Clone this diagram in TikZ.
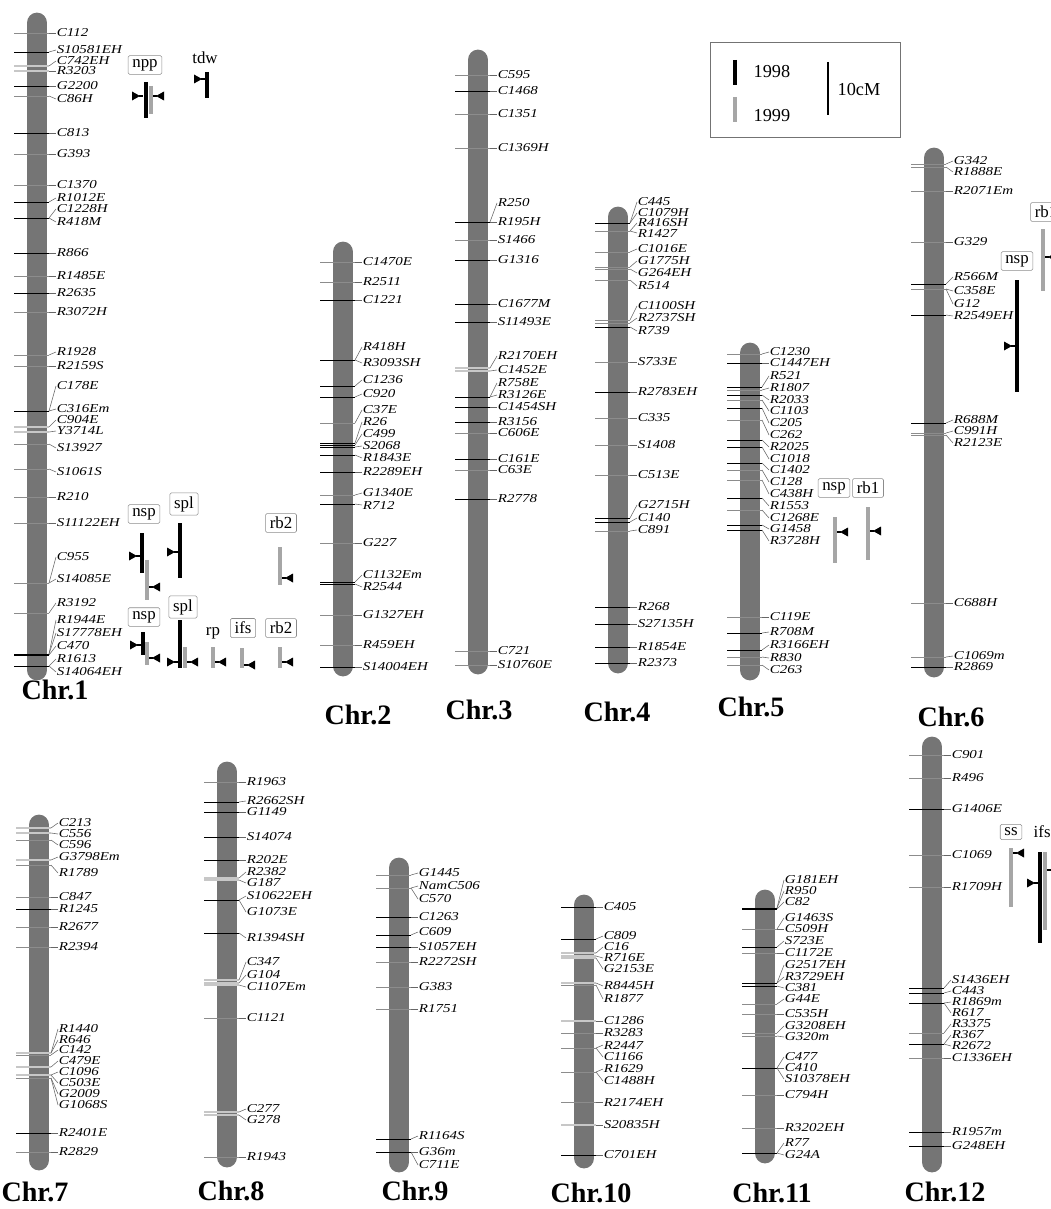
\documentclass[tikz,border=0pt]{standalone}
\usepackage{fontspec}
\setmainfont{Liberation Serif}
\newfontfamily\mkfont[FakeStretch=1.24]{Liberation Serif}
\usetikzlibrary{positioning}

\tikzset{
  chrbar/.style={line width=0.52cm, line cap=round, draw=black!54},
  mlab/.style={font=\mkfont\itshape\fontsize{8.6}{9}\selectfont, inner sep=0.5pt, anchor=west},
  tk/.style={draw=black, line width=0.5pt},
  tg/.style={draw=black!45, line width=0.5pt},
  tw/.style={draw=black!22, line width=1.4pt},
  ldr/.style={draw=black!60, line width=0.4pt},
  q98/.style={draw=black, line width=3.4pt},
  q99/.style={draw=black!35, line width=3.2pt},
  qbox/.style={draw=black!45, fill=white, rounded corners=1pt, inner xsep=3pt, inner ysep=2.5pt, font=\fontsize{12}{12}\selectfont},
  qtxt/.style={font=\fontsize{12}{12}\selectfont, inner sep=1pt},
  chrlab/.style={font=\fontsize{20}{20}\selectfont\bfseries, inner sep=1pt},
}

% chromosome: id, x, top, bottom, markers (tick y / label y / name / tick style)
\newcommand{\chrom}[5]{%
  \draw[chrbar] (#2,#3+10) -- (#2,#4-10);
  \foreach \ty/\ly/\nm/\ts in {#5} {
    \node[mlab] (#1-\nm) at (#2+19,\ly) {\nm};
    \draw[\ts] (#2-23,\ty) -- (#2+12,\ty);
    \draw[ldr] (#2+12,\ty) -- (#1-\nm.west);
  }
}
% peak pointers: left of a bar (pointing right), right of a bar (pointing left)
\newcommand{\qptr}[2]{\fill (#1-11,#2-4.5) -- (#1-3,#2) -- (#1-11,#2+4.5) -- cycle;
  \draw[line width=1.2pt] (#1-4,#2) -- (#1,#2);}
\newcommand{\qptl}[2]{\fill (#1+11,#2-4.5) -- (#1+3,#2) -- (#1+11,#2+4.5) -- cycle;
  \draw[line width=1.2pt] (#1+4,#2) -- (#1,#2);}

\begin{document}
\begin{tikzpicture}[x=0.025cm, y=-0.025cm]
  \useasboundingbox (0,0) rectangle (1051,1209);
  \clip (0,0) rectangle (1051,1209);

  % Chr.1
  \chrom{c1}{37}{13}{680}{33/33/C112/tg, 52/50/S10581EH/tk, 66/61/C742EH/tw, 71/71/R3203/tw,
    86/86/G2200/tk, 96/99/C86H/tg, 133/133/C813/tk, 154/154/G393/tg, 185/185/C1370/tg,
    202/198/R1012E/tk, 218/209/C1228H/tk, 218/222/R418M/tk, 253/253/R866/tk, 276/276/R1485E/tg,
    293/293/R2635/tk, 312/312/R3072H/tg, 355/352/R1928/tg, 366/366/R2159S/tg, 411/386/C178E/tk,
    411/409/C316Em/tk, 427/420/C904E/tw, 432/431/Y3714L/tw, 444/448/S13927/tg, 469/472/S1061S/tg,
    497/497/R210/tg, 523/523/S11122EH/tg, 583/557/C955/tg, 583/579/S14085E/tg, 613/603/R3192/tg,
    654/620/R1944E/tk, 654/633/S17778EH/tk, 655/646/C470/tk, 666/659/R1613/tk, 666/672/S14064EH/tk}
  \node[chrlab] (lab1) at (55,690) {Chr.1};

  % Chr.2
  \chrom{c2}{343}{242}{676}{262/262/C1470E/tg, 282/282/R2511/tg, 300/300/C1221/tk, 360/347/R418H/tk,
    360/363/R3093SH/tk, 386/380/C1236/tk, 397/394/C920/tk, 423/410/C37E/tg, 443/422/R26/tk,
    445/434/C499/tk, 447/446/S2068/tk, 455/458/R1843E/tk, 472/472/R2289EH/tk, 495/493/G1340E/tg,
    504/505/R712/tk, 543/543/G227/tg, 582/575/C1132Em/tk, 584/587/R2544/tk, 615/615/G1327EH/tg,
    645/645/R459EH/tg, 667/667/S14004EH/tk}
  \node[chrlab] (lab2) at (358,715) {Chr.2};

  % Chr.3
  \chrom{c3}{478}{50}{674}{75/75/C595/tg, 91/91/C1468/tk, 114/114/C1351/tg, 148/148/C1369H/tg,
    222/203/R250/tk, 222/222/R195H/tk, 240/240/S1466/tg, 260/260/G1316/tk, 304/304/C1677M/tk,
    322/322/S11493E/tk, 368/356/R2170EH/tw, 371/370/C1452E/tw, 397/383/R758E/tk, 397/395/R3126E/tk,
    407/407/C1454SH/tk, 422/422/R3156/tk, 433/433/C606E/tg, 459/459/C161E/tk, 470/470/C63E/tg,
    499/499/R2778/tk, 651/651/C721/tg, 665/665/S10760E/tg}
  \node[chrlab] (lab3) at (479,710) {Chr.3};

  % Chr.4
  \chrom{c4}{618}{207}{673}{223/202/C445/tk, 223/213/C1079H/tk, 231/223/R416SH/tk, 231/233/R1427/tg,
    252/249/C1016E/tg, 267/261/G1775H/tg, 269/273/G264EH/tg, 280/286/R514/tg, 320/306/C1100SH/tg,
    323/318/R2737SH/tg, 327/331/R739/tk, 362/362/S733E/tg, 392/392/R2783EH/tk, 418/418/C335/tg,
    445/445/S1408/tg, 475/475/C513E/tg, 518/505/G2715H/tk, 522/518/C140/tk, 531/530/C891/tg,
    607/607/R268/tk, 624/624/S27135H/tk, 647/647/R1854E/tk, 663/663/R2373/tk}
  \node[chrlab] (lab4) at (617,712) {Chr.4};

  % Chr.5
  \chrom{c5}{750}{343}{680}{354/352/C1230/tg, 363/363/C1447EH/tk, 387/376/R521/tk, 390/388/R1807/tg,
    395/400/R2033/tk, 400/411/C1103/tg, 408/423/C205/tk, 420/435/C262/tg, 440/447/R2025/tk,
    447/459/C1018/tk, 463/470/C1402/tk, 470/482/C128/tg, 480/494/C438H/tg, 498/506/R1553/tk,
    510/518/C1268E/tg, 525/529/G1458/tk, 530/541/R3728H/tk, 617/617/C119E/tg, 633/632/R708M/tk,
    650/645/R3166EH/tk, 657/658/R830/tg, 665/670/C263/tg}
  \node[chrlab] (lab5) at (751,707) {Chr.5};

  % Chr.6
  \chrom{c6}{934}{148}{677}{164/161/G342/tg, 167/172/R1888E/tg, 191/191/R2071Em/tg, 242/242/G329/tg,
    284/277/R566M/tk, 289/291/C358E/tk, 289/304/G12/tg, 315/316/R2549EH/tk, 423/420/R688M/tk,
    433/431/C991H/tg, 435/443/R2123E/tg, 603/603/C688H/tg, 657/656/C1069m/tg, 667/667/R2869/tk}
  \node[chrlab] (lab6) at (951,717) {Chr.6};

  % Chr.7
  \chrom{c7}{39}{815}{1170}{828/823/C213/tw, 833/834/C556/tw, 840/845/C596/tg, 860/857/G3798Em/tw,
    865/873/R1789/tg, 897/897/C847/tg, 909/909/R1245/tk, 927/927/R2677/tg, 947/947/R2394/tg,
    1053/1029/R1440/tg, 1053/1040/R646/tw, 1055/1050/C142/tg, 1067/1061/C479E/tw, 1075/1072/C1096/tk,
    1075/1083/C503E/tw, 1078/1094/G2009/tg, 1078/1105/G1068S/tg, 1133/1133/R2401E/tk, 1152/1152/R2829/tg}
  \node[chrlab] (lab7) at (35,1192) {Chr.7};

  % Chr.8
  \chrom{c8}{227}{762}{1167}{782/782/R1963/tg, 802/801/R2662SH/tk, 812/812/G1149/tk, 837/837/S14074/tk,
    860/860/R202E/tk, 878/872/R2382/tw, 880/883/G187/tw, 900/896/S10622EH/tk, 900/912/G1073E/tk,
    933/938/R1394SH/tk, 980/962/C347/tw, 983/975/G104/tw, 985/987/C1107Em/tw, 1018/1018/C1121/tg,
    1112/1109/C277/tw, 1115/1120/G278/tw, 1157/1157/R1943/tg}
  \node[chrlab] (lab8) at (231,1191) {Chr.8};

  % Chr.9
  \chrom{c9}{399}{858}{1172}{875/873/G1445/tg, 888/886/NamC506/tk, 888/899/C570/tg, 917/917/C1263/tk,
    935/932/C609/tk, 947/947/S1057EH/tk, 962/962/R2272SH/tg, 987/987/G383/tg, 1009/1009/R1751/tg,
    1139/1136/R1164S/tk, 1152/1152/G36m/tk, 1152/1165/C711E/tk}
  \node[chrlab] (lab9) at (415,1191) {Chr.9};

  % Chr.10
  \chrom{c10}{584}{895}{1168}{907/907/C405/tk, 939/936/C809/tk, 953/947/C16/tw, 956/958/R716E/tw,
    958/969/G2153E/tw, 983/986/R8445H/tw, 985/999/R1877/tg, 1021/1021/C1286/tw, 1033/1033/R3283/tg,
    1048/1045/R2447/tk, 1048/1057/C1166/tg, 1072/1069/R1629/tg, 1072/1081/C1488H/tg,
    1102/1102/R2174EH/tg, 1125/1125/S20835H/tw, 1155/1155/C701EH/tk}
  \node[chrlab] (lab10) at (591,1193) {Chr.10};

  % Chr.11
  \chrom{c11}{765}{890}{1163}{908/880/G181EH/tk, 908/891/R950/tk, 909/902/C82/tk, 929/918/G1463S/tg,
    929/929/C509H/tg, 947/941/S723E/tk, 953/953/C1172E/tg, 983/965/G2517EH/tk, 983/977/R3729EH/tk,
    986/988/C381/tk, 1004/999/G44E/tg, 1014/1014/C535H/tg, 1033/1026/G3208EH/tg, 1036/1037/G320m/tg,
    1068/1057/C477/tk, 1068/1068/C410/tk, 1068/1079/S10378EH/tk, 1095/1095/C794H/tg,
    1128/1128/R3202EH/tg, 1153/1143/R77/tk, 1153/1155/G24A/tk}
  \node[chrlab] (lab11) at (772,1193) {Chr.11};

  % Chr.12
  \chrom{c12}{932}{737}{1172}{755/755/C901/tg, 778/778/R496/tg, 809/809/G1406E/tk, 855/855/C1069/tg,
    887/887/R1709H/tg, 988/980/S1436EH/tk, 993/991/C443/tk, 1003/1002/R1869m/tk, 1003/1013/R617/tk,
    1033/1024/R3375/tg, 1044/1035/R367/tk, 1044/1046/R2672/tk, 1058/1058/C1336EH/tg,
    1132/1132/R1957m/tk, 1146/1146/G248EH/tk}
  \node[chrlab] (lab12) at (945,1192) {Chr.12};

  % QTLs on Chr.1
  \node[qbox] (q1npp) at (145,65) {npp};
  \draw[q98] (146,82) -- (146,118);  \draw[q99] (151,86) -- (151,114);
  \qptr{143}{96} \qptl{153}{96}
  \node[qtxt] (q1tdw) at (205,58) {tdw};
  \draw[q98] (207,72) -- (207,98);  \qptr{205}{79}
  \node[qbox] (q1nspa) at (144,514) {nsp};
  \draw[q98] (142,533) -- (142,573);  \draw[q99] (147,560) -- (147,600);
  \qptr{140}{556} \qptl{149}{587}
  \node[qbox] (q1spla) at (184,504) {spl};
  \draw[q98] (180,523) -- (180,578);  \qptr{178}{552}
  \node[qbox] (q1rb2a) at (281,523) {rb2};
  \draw[q99] (280,547) -- (280,585);  \qptl{282}{578}
  \node[qbox] (q1nspb) at (144,617) {nsp};
  \draw[q98] (143,632) -- (143,655);  \draw[q99] (147,642) -- (147,665);
  \qptr{141}{645} \qptl{149}{658}
  \node[qbox] (q1splb) at (183,607) {spl};
  \draw[q98] (180,620) -- (180,668);  \draw[q99] (185,647) -- (185,668);
  \qptr{178}{662} \qptl{187}{662}
  \node[qtxt] (q1rp) at (213,633) {rp};
  \draw[q99] (213,647) -- (213,668);  \qptl{215}{662}
  \node[qbox] (q1ifs) at (243,628) {ifs};
  \draw[q99] (242,648) -- (242,668);  \qptl{244}{665}
  \node[qbox] (q1rb2b) at (281,628) {rb2};
  \draw[q99] (280,647) -- (280,668);  \qptl{282}{662}

  % QTLs on Chr.5
  \node[qbox] (q5nsp) at (834,488) {nsp};
  \draw[q99] (835,517) -- (835,563);  \qptl{837}{532}
  \node[qbox] (q5rb1) at (868,488) {rb1};
  \draw[q99] (868,507) -- (868,560);  \qptl{870}{531}

  % QTLs on Chr.6
  \node[qbox] (q6rb1) at (1046,212) {rb1};
  \draw[q99] (1043,229) -- (1043,291);  \qptl{1045}{257}
  \node[qbox] (q6nsp) at (1017,261) {nsp};
  \draw[q98] (1017,280) -- (1017,392);  \qptr{1015}{346}

  % QTLs on Chr.12
  \node[qbox] (q12ss) at (1011,832) {ss};
  \draw[q99] (1011,848) -- (1011,907);  \qptl{1013}{853}
  \node[qtxt, anchor=west] (q12ifs) at (1032,832) {ifs};
  \draw[q98] (1040,852) -- (1040,943);  \draw[q99] (1045,852) -- (1045,930);
  \qptr{1038}{883} \qptl{1047}{870}

  % legend
  \draw[black!55, line width=0.6pt] (710,42) rectangle (900,137);
  \draw[q98] (735,60) -- (735,85);
  \node[qtxt, anchor=west, font=\fontsize{13}{13}\selectfont] (y98) at (752,72) {1998};
  \draw[q99] (735,97) -- (735,122);
  \node[qtxt, anchor=west, font=\fontsize{13}{13}\selectfont] (y99) at (752,116) {1999};
  \draw[line width=1.1pt] (828,62) -- (828,115);
  \node[qtxt, anchor=west, font=\fontsize{13}{13}\selectfont] (cm) at (836,90) {10cM};
\end{tikzpicture}
\end{document}
